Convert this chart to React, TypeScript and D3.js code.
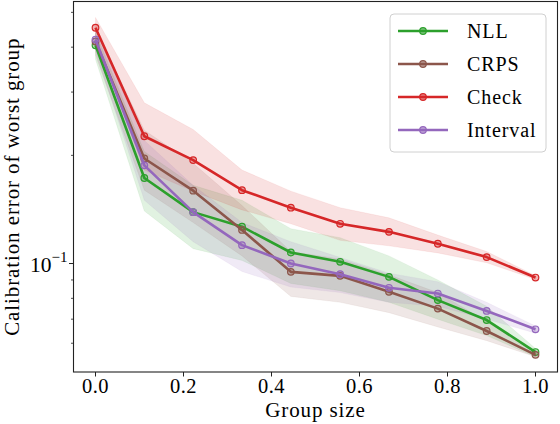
import { useEffect, useRef } from 'react';
import * as d3 from 'd3';

// Group sizes on the x axis
const groupSizes = [0, 0.111, 0.222, 0.333, 0.444, 0.556, 0.667, 0.778, 0.889, 1.0];

// Series names and colours
const seriesNames = ['NLL', 'CRPS', 'Check', 'Interval'];
const seriesColors = ['#2ca02c', '#8c564b', '#d62728', '#9467bd'];

// Mean calibration error of the worst group
const nllMean = [0.405, 0.173, 0.139, 0.1266, 0.1073, 0.1011, 0.0918, 0.0791, 0.0696, 0.0567];
const crpsMean = [0.415, 0.196, 0.1595, 0.124, 0.0948, 0.0924, 0.0834, 0.0749, 0.0649, 0.0557];
const checkMean = [0.453, 0.226, 0.194, 0.16, 0.143, 0.129, 0.1225, 0.1135, 0.1042, 0.0914];
const intervalMean = [0.42, 0.1876, 0.139, 0.1125, 0.1, 0.0934, 0.0856, 0.0825, 0.0738, 0.0656];

// Lower / upper edges of the shaded bands
const nllLow = [0.37, 0.14, 0.11, 0.102, 0.088, 0.084, 0.078, 0.07, 0.063, 0.055];
const nllHigh = [0.44, 0.205, 0.165, 0.15, 0.125, 0.118, 0.105, 0.09, 0.076, 0.058];
const crpsLow = [0.38, 0.16, 0.13, 0.105, 0.081, 0.078, 0.073, 0.0666, 0.061, 0.055];
const crpsHigh = [0.45, 0.235, 0.19, 0.145, 0.108, 0.103, 0.093, 0.083, 0.069, 0.0565];
const checkLow = [0.424, 0.182, 0.159, 0.141, 0.129, 0.116, 0.112, 0.107, 0.1005, 0.0903];
const checkHigh = [0.484, 0.28, 0.236, 0.182, 0.159, 0.143, 0.134, 0.12, 0.108, 0.0925];
const intervalLow = [0.39, 0.15, 0.115, 0.095, 0.086, 0.083, 0.078, 0.076, 0.07, 0.064];
const intervalHigh = [0.45, 0.22, 0.165, 0.13, 0.115, 0.104, 0.094, 0.089, 0.078, 0.067];

// Axis ticks
const xTicks = [0, 0.2, 0.4, 0.6, 0.8, 1.0];
const yMajorTicks = [0.1];
const yMinorTicks = [0.06, 0.07, 0.08, 0.09, 0.2, 0.3, 0.4, 0.5];

const means = [nllMean, crpsMean, checkMean, intervalMean];
const lows = [nllLow, crpsLow, checkLow, intervalLow];
const highs = [nllHigh, crpsHigh, checkHigh, intervalHigh];

const FONT = '"Liberation Serif", serif';

const Chart = () => {
  const svgRef = useRef<SVGSVGElement | null>(null);

  useEffect(() => {
    const width = 560;
    const height = 424;
    const left = 73.5;
    const right = 557.5;
    const top = 1.5;
    const bottom = 372;

    const x = d3.scaleLinear().domain([-0.05, 1.05]).range([left, right]);
    const y = d3.scaleLog().domain([0.0499, 0.536]).range([bottom, top]);

    const svg = d3.select(svgRef.current)
      .attr('width', width)
      .attr('height', height)
      .attr('viewBox', [0, 0, width, height].join(' '));
    svg.selectAll('*').remove();

    svg.append('defs').append('clipPath').attr('id', 'plot-clip')
      .append('rect')
      .attr('x', left).attr('y', top)
      .attr('width', right - left).attr('height', bottom - top);

    const plot = svg.append('g').attr('clip-path', 'url(#plot-clip)');

    // shaded bands
    const area = d3.area<number>()
      .x((_, i) => x(groupSizes[i]))
      .y0((d) => y(d));
    means.forEach((_, s) => {
      plot.append('path')
        .attr('d', area.y1((_, i) => y(highs[s][i]))(lows[s]) as string)
        .attr('fill', seriesColors[s])
        .attr('fill-opacity', 0.14)
        .attr('stroke', seriesColors[s])
        .attr('stroke-opacity', 0.06)
        .attr('stroke-width', 1);
    });

    // lines with markers
    const line = d3.line<number>()
      .x((_, i) => x(groupSizes[i]))
      .y((d) => y(d));
    means.forEach((m, s) => {
      plot.append('path')
        .attr('d', line(m) as string)
        .attr('fill', 'none')
        .attr('stroke', seriesColors[s])
        .attr('stroke-width', 2.6)
        .attr('stroke-linejoin', 'round');
      plot.selectAll(null)
        .data(m)
        .join('circle')
        .attr('cx', (_, i) => x(groupSizes[i]))
        .attr('cy', (d) => y(d))
        .attr('r', 3.3)
        .attr('fill', seriesColors[s])
        .attr('fill-opacity', 0.35)
        .attr('stroke', seriesColors[s])
        .attr('stroke-width', 1.2);
    });

    // spines
    svg.append('rect')
      .attr('x', left).attr('y', top)
      .attr('width', right - left).attr('height', bottom - top)
      .attr('fill', 'none')
      .attr('stroke', '#222')
      .attr('stroke-width', 1.1);

    // x ticks
    const xg = svg.append('g');
    xTicks.forEach((t) => {
      xg.append('line')
        .attr('x1', x(t)).attr('x2', x(t))
        .attr('y1', bottom).attr('y2', bottom + 4.5)
        .attr('stroke', '#222').attr('stroke-width', 1);
      xg.append('text')
        .attr('x', x(t)).attr('y', bottom + 21)
        .attr('text-anchor', 'middle')
        .attr('font-family', FONT)
        .attr('font-size', 20.5)
        .attr('letter-spacing', 0.4)
        .text(d3.format('.1f')(t));
    });

    // y ticks
    const yg = svg.append('g');
    yMinorTicks.forEach((t) => {
      yg.append('line')
        .attr('x1', left - 2.5).attr('x2', left)
        .attr('y1', y(t)).attr('y2', y(t))
        .attr('stroke', '#222').attr('stroke-width', 0.8);
    });
    yMajorTicks.forEach((t) => {
      yg.append('line')
        .attr('x1', left - 4.5).attr('x2', left)
        .attr('y1', y(t)).attr('y2', y(t))
        .attr('stroke', '#222').attr('stroke-width', 1);
      const label = yg.append('text')
        .attr('x', left - 6).attr('y', y(t) + 8)
        .attr('text-anchor', 'end')
        .attr('font-family', FONT)
        .attr('font-size', 21.5);
      label.append('tspan').text('10');
      label.append('tspan')
        .attr('dy', -9.5)
        .attr('font-size', 15)
        .text(`\u2212${Math.round(-Math.log10(t))}`);
    });

    // axis labels
    svg.append('text')
      .attr('x', (left + right) / 2).attr('y', 417)
      .attr('text-anchor', 'middle')
      .attr('font-family', FONT)
      .attr('font-size', 21)
      .attr('letter-spacing', 0.9)
      .text('Group size');
    svg.append('text')
      .attr('transform', `translate(19,${(top + bottom) / 2}) rotate(-90)`)
      .attr('text-anchor', 'middle')
      .attr('font-family', FONT)
      .attr('font-size', 21)
      .attr('letter-spacing', 0.9)
      .text('Calibration error of worst group');

    // legend
    const lg = svg.append('g');
    lg.append('rect')
      .attr('x', 390).attr('y', 14)
      .attr('width', 156).attr('height', 138)
      .attr('rx', 4)
      .attr('fill', 'white').attr('fill-opacity', 0.8)
      .attr('stroke', '#d0d0d0').attr('stroke-width', 1);
    seriesNames.forEach((name, s) => {
      const ly = 31 + s * 33;
      lg.append('line')
        .attr('x1', 398).attr('x2', 448)
        .attr('y1', ly).attr('y2', ly)
        .attr('stroke', seriesColors[s]).attr('stroke-width', 2.6);
      lg.append('circle')
        .attr('cx', 423).attr('cy', ly).attr('r', 3.3)
        .attr('fill', seriesColors[s]).attr('fill-opacity', 0.6)
        .attr('stroke', seriesColors[s]).attr('stroke-width', 1.2);
      lg.append('text')
        .attr('x', 467).attr('y', ly + 6.5)
        .attr('font-family', FONT)
        .attr('font-size', 20)
        .attr('letter-spacing', 0.9)
        .text(name);
    });
  }, []);

  return <svg ref={svgRef} style={{ display: 'block' }}></svg>;
};

export default function App() {
  return (
    <div>
      <style>{'body { margin: 0; background: white; }'}</style>
      <Chart />
    </div>
  );
}
